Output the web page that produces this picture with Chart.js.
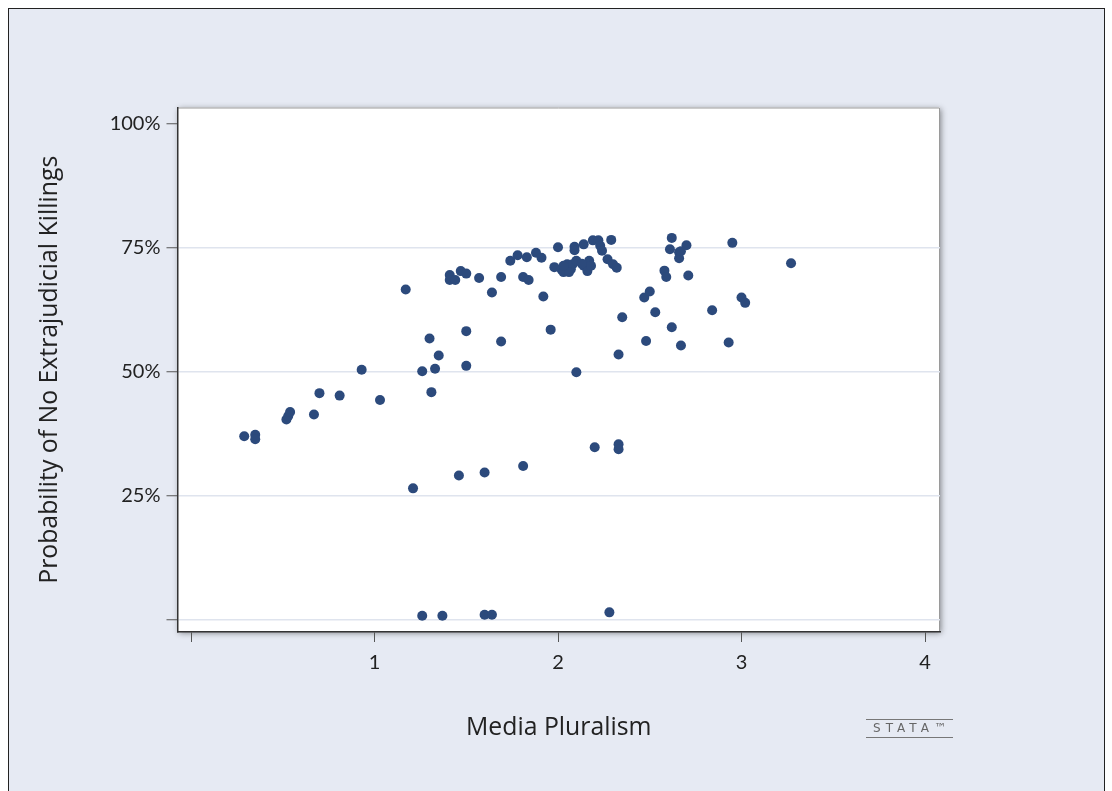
<!DOCTYPE html>
<html><head><meta charset="utf-8">
<script src="https://cdn.jsdelivr.net/npm/chart.js@4/dist/chart.umd.min.js"></script>
<style>
html,body{margin:0;padding:0;background:#fff;width:1112px;height:791px;overflow:hidden;}
#frame{position:absolute;left:8px;top:8px;width:1095px;height:800px;border:1px solid #222;background:#e6eaf3;}
#wrap{position:absolute;left:0;top:0;width:1112px;height:791px;}
#logo{position:absolute;left:866px;top:719px;width:87px;height:17px;border-top:1px solid #777;border-bottom:1px solid #777;
 font-family:"DejaVu Sans",sans-serif;font-size:12px;line-height:17px;letter-spacing:5px;color:#666;text-align:center;text-indent:5px;white-space:nowrap;}
</style></head><body>
<div id="frame"></div>
<div id="wrap"><canvas id="c" width="1112" height="791"></canvas></div>
<div id="logo">STATA™</div>
<script>
const mediaPluralism = [0.29,0.35,0.35,0.52,0.53,0.54,0.67,0.70,0.81,0.93,
  1.03,1.17,1.21,1.26,1.26,1.30,1.31,1.33,1.35,1.37,
  1.41,1.41,1.44,1.46,1.47,1.50,1.50,1.50,1.57,1.60,
  1.60,1.64,1.64,1.69,1.69,1.74,1.78,1.81,1.81,1.83,
  1.84,1.88,1.91,1.92,1.96,2.00,1.98,2.02,2.03,2.05,
  2.07,2.08,2.10,2.09,2.09,2.10,2.14,2.14,2.16,2.17,
  2.18,2.19,2.20,2.22,2.23,2.24,2.27,2.28,2.29,2.30,
  2.32,2.33,2.33,2.33,2.35,2.47,2.48,2.50,2.53,2.58,
  2.59,2.61,2.62,2.62,2.66,2.66,2.67,2.70,2.71,2.84,
  2.93,2.95,3.00,3.02,3.27,2.13,2.06,2.67,2.03];
const probNoKillings = [36.9,37.2,36.3,40.3,41.0,41.8,41.3,45.6,45.1,50.3,
  44.2,66.5,26.4,0.7,50.0,56.6,45.8,50.5,53.2,0.7,
  69.4,68.4,68.4,29.0,70.2,69.7,58.1,51.1,68.8,29.6,
  0.9,0.9,65.9,69.0,56.0,72.3,73.4,30.9,69.0,73.0,
  68.4,73.9,72.9,65.1,58.4,75.0,71.0,70.5,70.0,71.6,
  70.6,71.6,72.3,75.1,74.4,49.8,75.6,71.3,70.2,72.3,
  71.3,76.4,34.7,76.4,75.3,74.3,72.6,1.4,76.5,71.6,
  70.9,53.4,35.3,34.3,60.9,64.9,56.1,66.1,61.9,70.3,
  69.0,74.6,76.9,58.9,74.0,72.8,55.2,75.4,69.3,62.3,
  55.8,75.9,64.9,63.8,71.8,71.7,70.0,74.2,71.3];
const xTickValues = [0,1,2,3,4];
const xTickLabels = ['','1','2','3','4'];
const yTickValues = [0,25,50,75,100];
const yTickLabels = ['','25%','50%','75%','100%'];
const xTitle = 'Media Pluralism';
const yTitle = 'Probability of No Extrajudicial Killings';

const points = mediaPluralism.map((x,i)=>({x:x, y:probNoKillings[i]}));

const plotBg = {
  id:'plotBg',
  beforeDraw(chart){
    const {ctx, chartArea:a} = chart;
    ctx.save();
    ctx.shadowColor='rgba(0,0,0,0.45)';
    ctx.shadowBlur=6; ctx.shadowOffsetX=1; ctx.shadowOffsetY=1;
    ctx.fillStyle='#fff';
    ctx.fillRect(a.left,a.top,a.right-a.left,a.bottom-a.top);
    ctx.restore();
    ctx.save();
    ctx.strokeStyle='#9a9a9a'; ctx.lineWidth=1;
    ctx.beginPath();
    ctx.moveTo(a.left,a.top+0.5); ctx.lineTo(a.right-0.5,a.top+0.5); ctx.lineTo(a.right-0.5,a.bottom);
    ctx.stroke();
    ctx.restore();
  }
};

const tickFont = 'Lato, "Open Sans", sans-serif';
const titleFont = '"Open Sans", Lato, sans-serif';
new Chart(document.getElementById('c'), {
  type:'scatter',
  data:{datasets:[{data:points, backgroundColor:'#2c4a7c', borderWidth:0, pointRadius:5, pointHoverRadius:5}]},
  options:{
    responsive:false, animation:false,
    layout:{padding:{left:0,top:107.5,right:172,bottom:0}},
    plugins:{legend:{display:false}, tooltip:{enabled:false}},
    scales:{
      x:{type:'linear', min:-0.0736, max:4.0817,
        afterBuildTicks(s){ s.ticks = xTickValues.map(v=>({value:v})); },
        afterFit(s){ s.height = 159; },
        grid:{drawOnChartArea:false, tickLength:10, tickColor:'#555', tickWidth:1},
        border:{display:true, color:'#333', width:1.5},
        ticks:{padding:9, color:'#222', font:{family:tickFont,size:20}, maxRotation:0,
          callback(v){ const i = xTickValues.indexOf(v); return i>=0 ? xTickLabels[i] : ''; }},
        title:{display:true, text:xTitle, color:'#222', font:{family:titleFont,size:24.8}, padding:{top:0,bottom:48}}
      },
      y:{type:'linear', min:-2.56, max:103.19,
        afterBuildTicks(s){ s.ticks = yTickValues.map(v=>({value:v})); },
        afterFit(s){ s.width = 177.5; },
        grid:{color:(c)=> (c.tick && c.tick.value===100) ? 'rgba(0,0,0,0)' : '#dfe4ee', lineWidth:1.5,
          tickLength:11, tickColor:'#555', tickWidth:1},
        border:{display:true, color:'#333', width:1.5},
        ticks:{padding:6, color:'#222', font:{family:tickFont,size:20},
          callback(v){ const i = yTickValues.indexOf(v); return i>=0 ? yTickLabels[i] : ''; }},
        title:{display:true, text:yTitle, color:'#222', font:{family:titleFont,size:24.8}, padding:{top:35,bottom:0}}
      }
    }
  },
  plugins:[plotBg]
});
</script>
</body></html>
